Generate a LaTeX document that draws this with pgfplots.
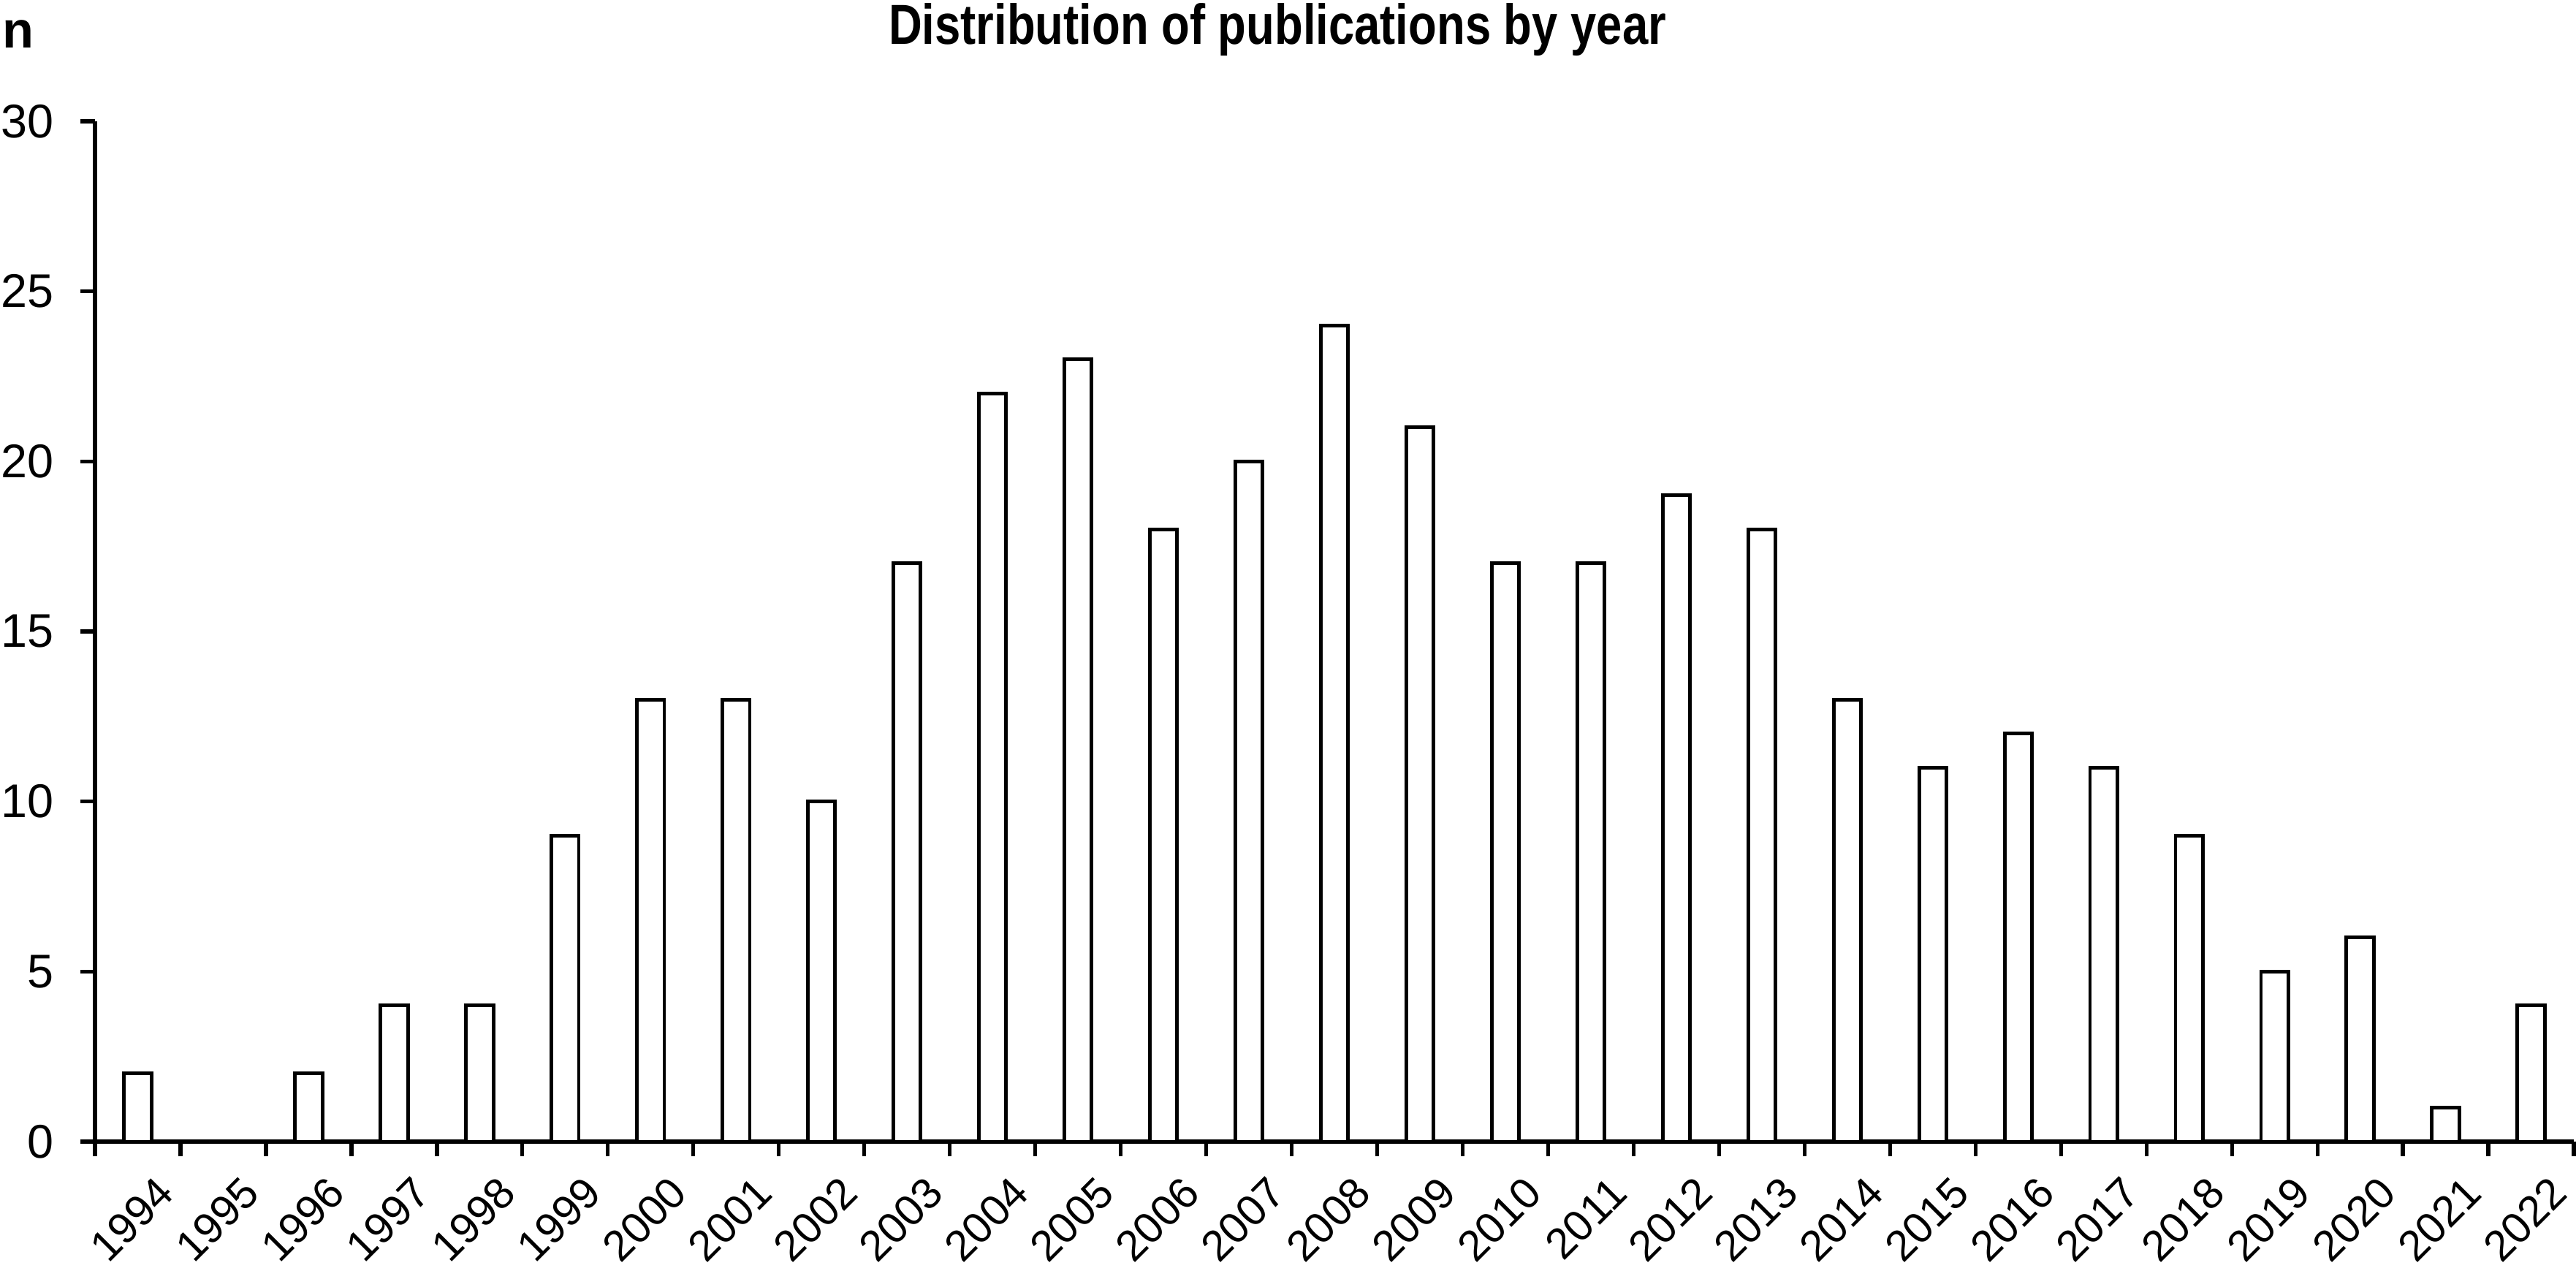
\documentclass[border=0pt]{standalone}
\usepackage{fontspec}
\setmainfont{Liberation Sans}
\newfontfamily\narrowsans[FakeStretch=0.82]{Liberation Sans}
\usepackage{pgfplots}
\pgfplotsset{compat=1.18}
\begin{document}
\begin{tikzpicture}[font=\fontsize{10}{12}\selectfont]
\begin{axis}[
    scale only axis,
    width=169.6mm, height=69.8mm,
    xmin=-0.5, xmax=28.5,
    ymin=0, ymax=30,
    axis x line*=bottom,
    axis y line*=left,
    axis line style={line width=0.85pt},
    ytick={0,5,...,30},
    xtick={0,...,28},
    xticklabels={1994,1995,1996,1997,1998,1999,2000,2001,2002,2003,2004,2005,2006,2007,2008,2009,2010,2011,2012,2013,2014,2015,2016,2017,2018,2019,2020,2021,2022},
    minor xtick={-0.5,0.5,...,28.5},
    major x tick style={draw=none},
    tick align=outside,
    tick style={line width=0.75pt, black},
    major tick length=1mm,
    minor tick length=1mm,
    x tick label style={font=\fontsize{8.4}{10}\selectfont, rotate=45, anchor=north east, inner sep=0pt, yshift=-1.65mm, xshift=0mm},
    y tick label style={font=\fontsize{9.2}{11}\selectfont, inner sep=0pt, xshift=-1.75mm},
    /pgf/number format/assume math mode=true,
    clip=false,
]
\addplot[ybar, bar width=0.32, bar shift=0pt, draw=black, fill=white, line width=0.7pt]
  coordinates {
    (0,2) (1,0) (2,2) (3,4) (4,4) (5,9) (6,13) (7,13) (8,10) (9,17)
    (10,22) (11,23) (12,18) (13,20) (14,24) (15,21) (16,17) (17,17) (18,19) (19,18)
    (20,13) (21,11) (22,12) (23,11) (24,9) (25,5) (26,6) (27,1) (28,4)
  };
\node[font=\fontsize{11}{13}\selectfont\narrowsans\bfseries, anchor=base, inner sep=0pt]
  at (rel axis cs:0.477,1) [yshift=5.3mm] {Distribution of publications by year};
\node[font=\fontsize{10}{12}\selectfont\bfseries, anchor=base west, inner sep=0pt]
  at (rel axis cs:0,1) [xshift=-6.4mm, yshift=5.05mm] {n};
\coordinate (bl) at (rel axis cs:0,0);
\coordinate (tr) at (rel axis cs:1,1);
\end{axis}
\pgfresetboundingbox
\path ([shift={(-6.5mm,-9.35mm)}]bl) rectangle ([shift={(0.15mm,8.3mm)}]tr);
\end{tikzpicture}
\end{document}
